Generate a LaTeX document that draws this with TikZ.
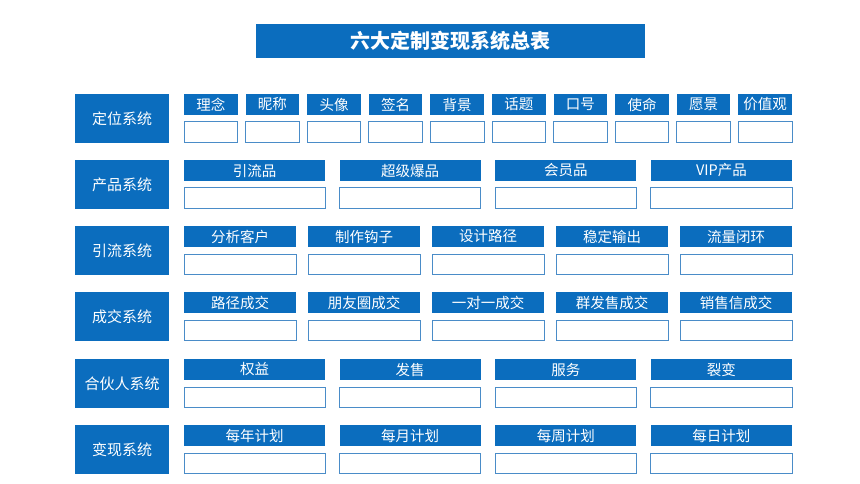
\documentclass[tikz,border=0pt]{standalone}
\usepackage{fontspec}
\setmainfont{Noto Sans CJK SC}
\definecolor{bl}{HTML}{0B6DBE}
\definecolor{bd}{HTML}{4A8CC8}
\begin{document}
\begin{tikzpicture}[x=1pt,y=-1pt,
  cell/.style={fill=white,draw=bd,line width=1pt}]
\useasboundingbox (0,0) rectangle (860,484);
\fill[bl] (256,24) rectangle (645,58);
\node[text=white,font=\bfseries\fontsize{20}{22}\selectfont] (title) at (450.5,41) {六大定制变现系统总表};
\def\row#1#2#3#4{%
  \path[fill=bl] (75,#1) rectangle (169,#1+49);
  \node[text=white,font=\fontsize{15}{17}\selectfont] at (122,#1+24.5) {#2};
  \foreach \t [count=\i] in {#4} {
    \pgfmathsetmacro{\gap}{#3==10?8:(#3==5?12:14.5)}
    \pgfmathsetmacro{\w}{(608-(#3-1)*\gap)/#3}
    \pgfmathsetmacro{\xa}{184+(\i-1)*(\w+\gap)}
    \fill[bl] (\xa,#1) rectangle (\xa+\w,#1+21);
    \node[text=white,font=\fontsize{14.5}{16}\selectfont] at (\xa+\w/2,#1+10.5) {\t};
    \draw[cell] (\xa,#1+28) rectangle (\xa+\w,#1+48.5);
  }}
\row{94}{定位系统}{10}{理念,昵称,头像,签名,背景,话题,口号,使命,愿景,价值观}
\row{160}{产品系统}{4}{引流品,超级爆品,会员品,VIP产品}
\row{226}{引流系统}{5}{分析客户,制作钩子,设计路径,稳定输出,流量闭环}
\row{292}{成交系统}{5}{路径成交,朋友圈成交,一对一成交,群发售成交,销售信成交}
\row{359}{合伙人系统}{4}{权益,发售,服务,裂变}
\row{425}{变现系统}{4}{每年计划,每月计划,每周计划,每日计划}
\end{tikzpicture}
\end{document}
